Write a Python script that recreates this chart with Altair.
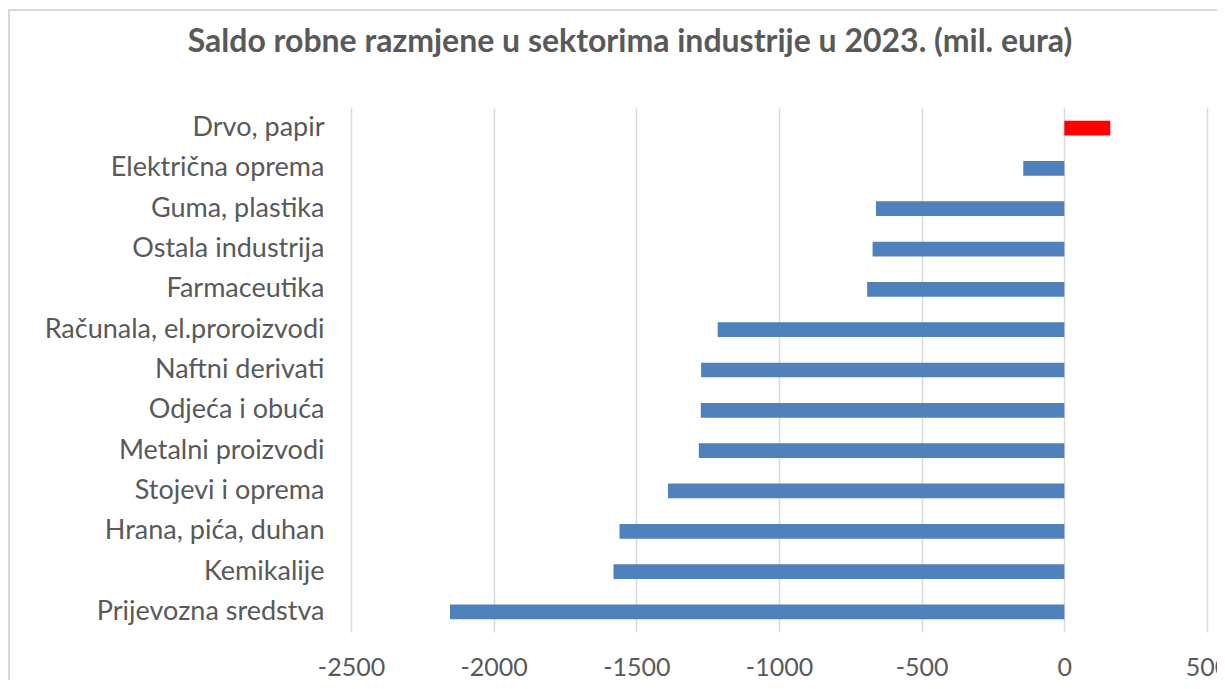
import altair as alt
import pandas as pd

categories = [
    "Drvo, papir",
    "Električna oprema",
    "Guma, plastika",
    "Ostala industrija",
    "Farmaceutika",
    "Računala, el.proroizvodi",
    "Naftni derivati",
    "Odjeća i obuća",
    "Metalni proizvodi",
    "Stojevi i oprema",
    "Hrana, pića, duhan",
    "Kemikalije",
    "Prijevozna sredstva",
]
values = [161, -144, -660, -672, -691, -1215, -1273, -1274, -1281, -1389, -1559, -1580, -2153]
colors = ["#FF0000"] + ["#4F81BD"] * 12
x_ticks = [-2500, -2000, -1500, -1000, -500, 0, 500]

df = pd.DataFrame({"cat": categories, "val": values, "color": colors})

FONT = "Lato"

bars = (
    alt.Chart(df)
    .mark_bar()
    .encode(
        y=alt.Y(
            "cat:N",
            sort=categories,
            title=None,
            scale=alt.Scale(paddingInner=0.635, paddingOuter=0.315),
            axis=alt.Axis(
                domain=False,
                ticks=False,
                grid=False,
                labelFont=FONT,
                labelFontSize=27,
                labelColor="#595959",
                labelPadding=27,
                labelLimit=400,
            ),
        ),
        x=alt.X(
            "val:Q",
            title=None,
            scale=alt.Scale(domain=[-2500, 500], nice=False, zero=False),
            axis=alt.Axis(
                values=x_ticks,
                labelExpr="datum.value + ''",
                domain=False,
                ticks=False,
                grid=True,
                gridColor="#D9D9D9",
                gridWidth=1.5,
                labelFont=FONT,
                labelFontSize=25,
                labelColor="#595959",
                labelPadding=23,
                labelFlush=False,
            ),
        ),
        color=alt.Color("color:N", scale=None, legend=None),
    )
)

frame_top = alt.Chart(df).mark_rule(color="#D9D9D9", strokeWidth=1.5).encode(
    x=alt.value(-343), x2=alt.value(900), y=alt.value(-98)
)
frame_left = alt.Chart(df).mark_rule(color="#D9D9D9", strokeWidth=1.5).encode(
    x=alt.value(-342), y=alt.value(-98), y2=alt.value(700)
)

chart = (
    alt.layer(bars, frame_top, frame_left)
    .properties(
        width=856,
        height=524,
        autosize=alt.AutoSizeParams(type="none"),
        padding={"left": 343, "top": 100, "right": 10, "bottom": 48},
        title=alt.TitleParams(
            "Saldo robne razmjene u sektorima industrije u 2023. (mil. eura)",
            font=FONT,
            fontSize=32,
            fontWeight="bold",
            color="#595959",
            anchor="middle",
            frame="group",
            dx=-149,
            offset=-50,
        ),
    )
    .configure_view(stroke=None)
)

chart.save("out.html", embed_options={"renderer": "svg", "actions": False})
